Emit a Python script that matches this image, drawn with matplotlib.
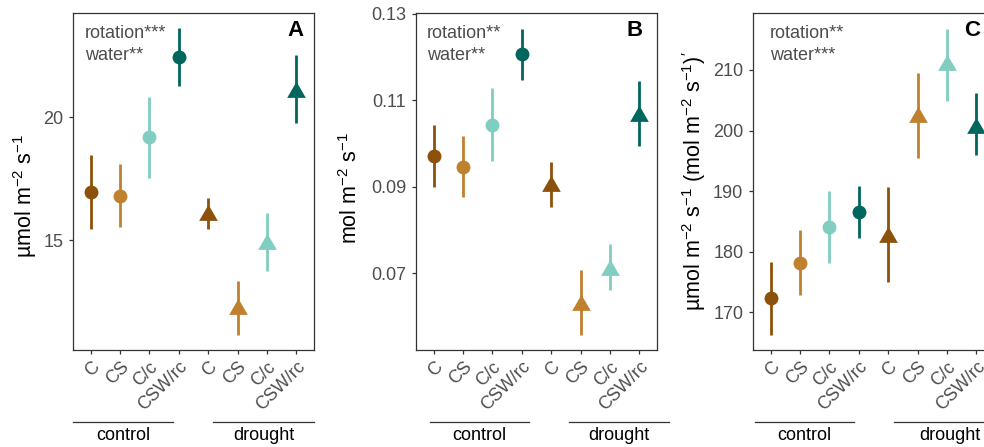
import matplotlib
matplotlib.use("Agg")
import matplotlib.pyplot as plt
from matplotlib.lines import Line2D

plt.rcParams["font.family"] = ["Liberation Sans", "DejaVu Sans"]
plt.rcParams["mathtext.fontset"] = "custom"
plt.rcParams["mathtext.rm"] = "Liberation Sans"
plt.rcParams["mathtext.it"] = "Liberation Sans:italic"
plt.rcParams["mathtext.bf"] = "Liberation Sans:bold"

treatments = ["C", "CS", "C/c", "CSW/rc"]
groups = ["control", "drought"]
colors = ["#8C510A", "#BF812D", "#80CDC1", "#01665E"]

# panel A - photosynthesis
a_mean = [16.96, 16.80, 19.17, 22.44, 16.03, 12.19, 14.83, 21.03]
a_low = [15.43, 15.53, 17.53, 21.26, 15.46, 11.13, 13.75, 19.74]
a_high = [18.46, 18.09, 20.80, 23.60, 16.70, 13.33, 16.09, 22.51]

# panel B - stomatal conductance
b_mean = [0.0971, 0.0946, 0.1044, 0.1208, 0.0902, 0.0628, 0.0709, 0.1063]
b_low = [0.0900, 0.0877, 0.0960, 0.1148, 0.0854, 0.0558, 0.0661, 0.0995]
b_high = [0.1042, 0.1017, 0.1128, 0.1266, 0.0958, 0.0709, 0.0767, 0.1145]

# panel C - WUE
c_mean = [172.4, 178.2, 184.1, 186.5, 182.5, 202.2, 210.8, 200.5]
c_low = [166.2, 172.8, 178.1, 182.3, 175.0, 195.4, 204.9, 195.9]
c_high = [178.4, 183.6, 190.05, 190.9, 190.7, 209.5, 216.8, 206.2]

annotations = [("rotation***", "water**"), ("rotation**", "water**"), ("rotation**", "water***")]
letters = ["A", "B", "C"]
ylabels = [r"µmol m$^{-2}$ s$^{-1}$",
           r"mol m$^{-2}$ s$^{-1}$",
           r"µmol m$^{-2}$ s$^{-1}$ (mol m$^{-2}$ s$^{-1}$)$^{\prime}$"]
yticks = [[15, 20], [0.07, 0.09, 0.11, 0.13], [170, 180, 190, 200, 210]]
yticklabels = [["15", "20"], ["0.07", "0.09", "0.11", "0.13"],
               ["170", "180", "190", "200", "210"]]
ylims = [(10.53, 24.23), (0.0523, 0.1302), (163.8, 219.4)]

W, H = 984, 447
fig = plt.figure(figsize=(W / 100, H / 100), dpi=100)

lefts = [73, 416, 753]
ann_x = [12, 11, 17]
letter_x = [0.958, 0.942, 0.942]
ylab_x = [25, 351, 694]
ylab_y = [0.457, 0.48, 0.5]
line_spans = [[(0.0, 0.415), (0.581, 1.0)],
              [(0.058, 0.469), (0.635, 1.05)],
              [(0.008, 0.419), (0.585, 1.05)]]

tri = [(-1, -0.577), (1, -0.577), (0, 1.155)]

panels = [(a_mean, a_low, a_high), (b_mean, b_low, b_high), (c_mean, c_low, c_high)]

for i, (mean, low, high) in enumerate(panels):
    ax = fig.add_axes([lefts[i] / W, 97 / H, 241 / W, 337 / H])
    for j in range(8):
        col = colors[j % 4]
        x = j + 1
        ax.plot([x, x], [low[j], high[j]], color=col, lw=2.0, solid_capstyle="butt", zorder=2)
        if j < 4:
            ax.plot(x, mean[j], marker="o", ms=10, color=col, mec="none", zorder=3)
        else:
            ax.plot(x, mean[j], marker=tri, ms=15.5, color=col, mec="none", zorder=3)
    ax.set_xlim(0.4, 8.6)
    ax.set_ylim(*ylims[i])
    ax.set_yticks(yticks[i])
    ax.set_yticklabels(yticklabels[i])
    ax.set_xticks(range(1, 9))
    ax.set_xticklabels(treatments * 2, rotation=45, ha="right", va="top",
                       rotation_mode="anchor")
    ax.tick_params(length=3, width=0.9, color="#333333", labelcolor="#4D4D4D",
                   labelsize=13, pad=3)
    ax.tick_params(axis="y", pad=4)
    for s in ax.spines.values():
        s.set_color("#333333")
        s.set_linewidth(0.9)

    # significance text, two lines
    for k, line in enumerate(annotations[i]):
        ax.text(ann_x[i] / 241, 1 - (12 + 22 * k) / 337, line, transform=ax.transAxes,
                ha="left", va="top", fontsize=13, color="#4D4D4D")
    ax.text(letter_x[i], 1 - 7 / 337, letters[i], transform=ax.transAxes,
            ha="right", va="top", fontsize=16, fontweight="bold", color="black")
    fig.text(ylab_x[i] / W, (97 + ylab_y[i] * 337) / H, ylabels[i], rotation=90,
             ha="center", va="center", fontsize=15.5, color="black")

    for (x0, x1), g in zip(line_spans[i], groups):
        ax.add_line(Line2D([x0, x1], [-0.2136, -0.2136], transform=ax.transAxes,
                           color="#333333", lw=0.9, clip_on=False))
        ax.text((x0 + x1) / 2, -0.255, g, transform=ax.transAxes, ha="center",
                va="center", fontsize=13, color="black")

fig.savefig("out.png", dpi=100)
